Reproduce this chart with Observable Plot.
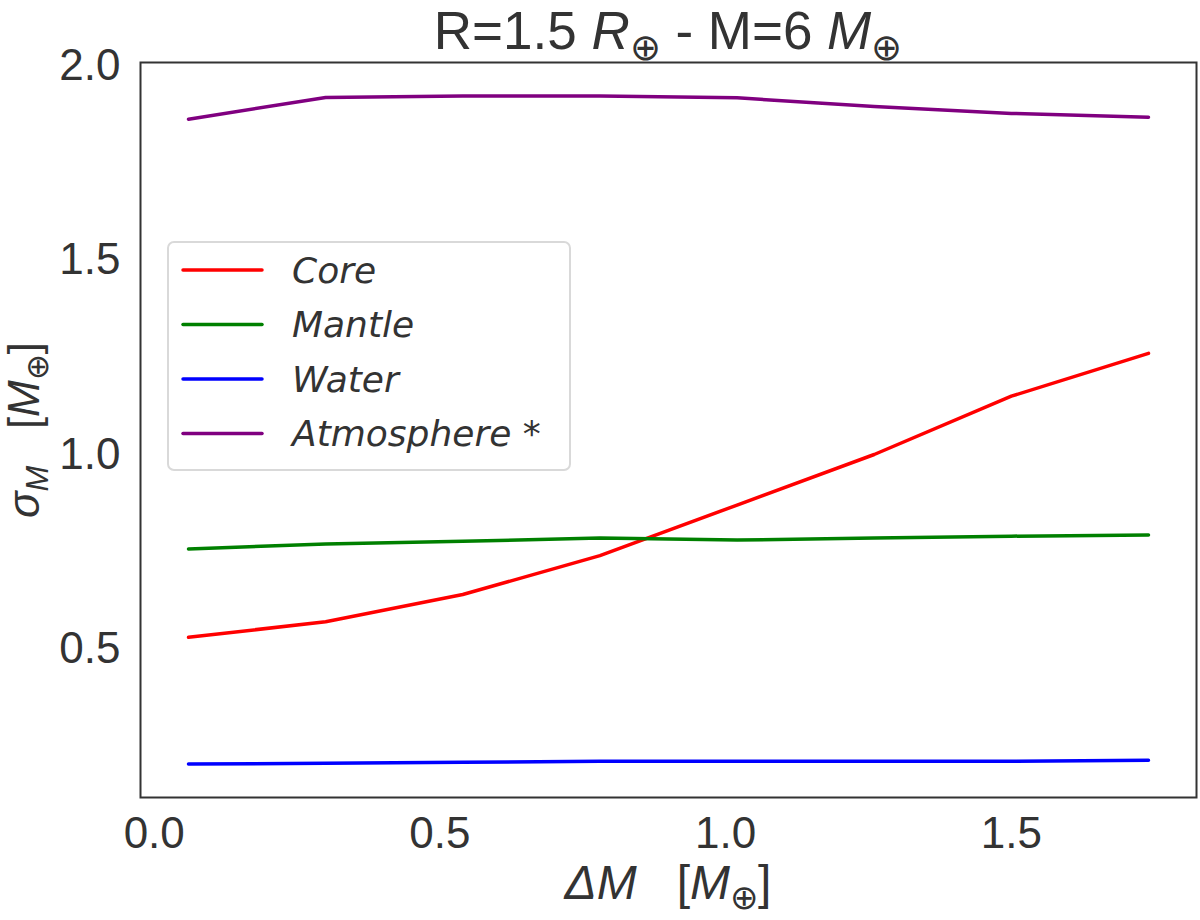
<!DOCTYPE html>
<html>
<head>
<meta charset="utf-8">
<script src="https://cdn.jsdelivr.net/npm/d3@7"></script>
<script src="https://cdn.jsdelivr.net/npm/@observablehq/plot@0.6"></script>
<style>
  body { margin: 0; background: #fff; }
</style>
</head>
<body>
<div id="chart"></div>
<script>
const deltaM = [0.06, 0.30, 0.54, 0.78, 1.02, 1.26, 1.50, 1.74];
const core = [0.53, 0.57, 0.64, 0.74, 0.87, 1.00, 1.15, 1.26];
const mantle = [0.757, 0.770, 0.777, 0.785, 0.780, 0.785, 0.790, 0.793];
const water = [0.204, 0.206, 0.209, 0.211, 0.211, 0.211, 0.211, 0.214];
const atmosphere = [1.862, 1.918, 1.922, 1.922, 1.917, 1.895, 1.877, 1.867];
const seriesNames = ["Core", "Mantle", "Water", "Atmosphere *"];
const seriesColors = ["red", "green", "blue", "purple"];
const xTicks = [0, 0.5, 1.0, 1.5];
const yTicks = [0.5, 1.0, 1.5, 2.0];

let rows = [];
[core, mantle, water, atmosphere].forEach((vals, i) => {
  vals.forEach((v, j) => rows.push({ x: deltaM[j], y: v, s: seriesNames[i] }));
});

// matplotlib style 5% margins
const pad = (lo, hi) => [lo - 0.05 * (hi - lo), hi + 0.05 * (hi - lo)];
const xDom = pad(d3.min(deltaM), d3.max(deltaM));
const yDom = pad(d3.min(rows, (d) => d.y), d3.max(rows, (d) => d.y));

const ink = "#333";

let chart = Plot.plot({
  width: 1200,
  height: 920,
  marginTop: 62,
  marginRight: 4,
  marginBottom: 123,
  marginLeft: 140,
  style: {
    "font-family": "'Liberation Sans', Arial, sans-serif",
    "font-size": "44px",
    color: ink,
    "background-color": "white",
  },
  x: { domain: xDom, ticks: xTicks, tickFormat: d3.format(".1f"), tickSize: 0, tickPadding: 19, label: null },
  y: { domain: yDom, ticks: yTicks, tickFormat: d3.format(".1f"), tickSize: 0, tickPadding: 20, label: null },
  color: { domain: seriesNames, range: seriesColors },
  marks: [
    Plot.lineY(rows, { x: "x", y: "y", stroke: "s", strokeWidth: 3.5 }),
    Plot.frame({ stroke: ink, strokeWidth: 2 }),
  ],
});

const svg = d3.select(chart);

// text with italic parts and subscripts
function mathText(parent, parts, size) {
  const t = parent.append("text").style("font-size", size + "px").attr("fill", ink)
    .style("text-anchor", "middle");
  let shift = 0;
  parts.forEach((p) => {
    const span = t.append("tspan").text(p.t);
    const target = p.sub ? size * 0.2 : 0;
    if (target !== shift) { span.attr("dy", target - shift); shift = target; }
    if (p.sub) span.style("font-size", size * 0.7 + "px");
    if (p.i) span.style("font-style", "italic");
  });
  return t;
}

// title
mathText(svg.append("g").attr("transform", "translate(668,49)"), [
  { t: "R=1.5 " }, { t: "R", i: true }, { t: "\u2295", sub: true },
  { t: " - M=6 " }, { t: "M", i: true }, { t: "\u2295", sub: true },
], 53);

// x label
mathText(svg.append("g").attr("transform", "translate(668,899)"), [
  { t: "\u0394M", i: true }, { t: "\u00a0\u00a0\u00a0[" }, { t: "M", i: true },
  { t: "\u2295", sub: true }, { t: "]" },
], 48);

// y label
mathText(svg.append("g").attr("transform", "translate(39,430) rotate(-90)"), [
  { t: "\u03c3", i: true }, { t: "M", i: true, sub: true }, { t: "\u00a0\u00a0\u00a0[" },
  { t: "M", i: true }, { t: "\u2295", sub: true }, { t: "]" },
], 44);

// legend
const lg = svg.append("g").attr("transform", "translate(168,242)");
lg.append("rect").attr("width", 402).attr("height", 228).attr("rx", 6)
  .attr("fill", "white").attr("fill-opacity", 0.8)
  .attr("stroke", "#d9d9d9").attr("stroke-width", 2);
seriesNames.forEach((name, i) => {
  const y = 28 + i * 54.5;
  lg.append("line").attr("x1", 15).attr("x2", 94).attr("y1", y).attr("y2", y)
    .attr("stroke", seriesColors[i]).attr("stroke-width", 3.5).attr("stroke-linecap", "round");
  lg.append("text").attr("x", 124).attr("y", y).attr("dy", "0.36em")
    .style("font-family", "'DejaVu Sans', sans-serif").style("font-style", "italic")
    .style("text-anchor", "start")
    .style("font-size", "36px").attr("fill", ink).text(name);
});

d3.select("#chart").append(() => chart);
</script>
</body>
</html>
